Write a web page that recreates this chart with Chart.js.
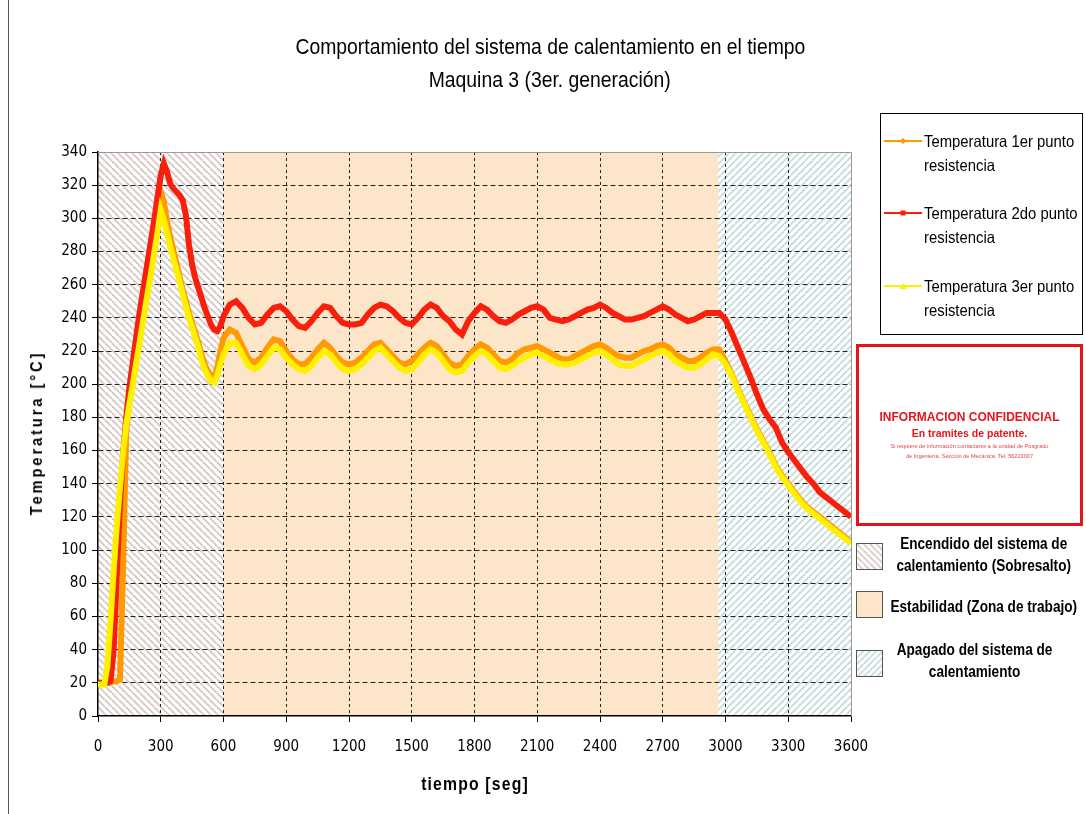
<!DOCTYPE html>
<html>
<head>
<meta charset="utf-8">
<script src="https://cdn.jsdelivr.net/npm/chart.js@4.4.1/dist/chart.umd.min.js"></script>
<style>
  body { margin: 0; background: #fff; }
  #lienzo { position: relative; width: 1086px; height: 814px; overflow: hidden;
            font-family: "Liberation Sans", Arial, sans-serif; color: #000; }
  #grafico { position: absolute; left: 0; top: 0; }
  .marco { position: absolute; left: 8px; top: 0; width: 1px; height: 814px; background: #555; }
  /* texto angosto, al estilo Arial Narrow */
  .ang { display: inline-block; white-space: nowrap; transform: scaleX(0.86); }
  .titulo { position: absolute; left: 250px; width: 600px; text-align: center; font-size: 22.5px; }
  .titulo .ang { transform-origin: center; }
  .eje-y { position: absolute; left: 37px; top: 433px; transform: translate(-50%, -50%) rotate(-90deg) scaleX(0.86);
           font-weight: bold; font-size: 17px; letter-spacing: 3.4px; white-space: nowrap; }
  .eje-x { position: absolute; left: 475px; top: 784px; transform: translate(-50%, -50%) scaleX(0.9);
           font-weight: bold; font-size: 17.5px; letter-spacing: 1.3px; white-space: nowrap; }
  #leyenda { position: absolute; left: 880px; top: 113px; width: 203px; height: 222px; border: 1px solid #000; box-sizing: border-box; }
  .item { position: absolute; left: 3px; font-size: 16.5px; line-height: 24px; white-space: nowrap; }
  .item svg { position: absolute; left: 0; top: 7px; }
  .item .ang { margin-left: 40px; transform-origin: left center; transform: scaleX(0.9); }
  #confidencial { position: absolute; left: 856px; top: 344px; width: 227px; height: 182px; border: 3px solid #e8141c;
                  box-sizing: border-box; text-align: center; color: #e8141c; }
  #confidencial .c1 { margin-top: 63px; font-weight: bold; font-size: 12px; }
  #confidencial .c2 { font-weight: bold; font-size: 10.5px; margin-top: 3px; }
  #confidencial .c3 { font-size: 5.6px; line-height: 10px; margin-top: 2px; color: #e0454a; }
  .zona { position: absolute; left: 856px; width: 230px; }
  .zona .muestra { position: absolute; left: 0; width: 27px; height: 27px; border: 1px solid #555; box-sizing: border-box; }
  .zona .texto { position: absolute; left: -2px; width: 260px; text-align: center; font-weight: bold; font-size: 16px; line-height: 22px; }
  .zona .texto .ang { transform-origin: center; transform: scaleX(0.85); }
</style>
</head>
<body>
<div id="lienzo">
  <canvas id="grafico" width="1086" height="814"></canvas>
  <div class="marco"></div>
  <div class="titulo" style="top:34px"><span class="ang">Comportamiento del sistema de calentamiento en el tiempo</span></div>
  <div class="titulo" style="top:67px"><span class="ang">Maquina 3 (3er. generación)</span></div>
  <div class="eje-y">Temperatura [°C]</div>
  <div class="eje-x">tiempo [seg]</div>
  <div id="leyenda"></div>
  <div id="confidencial">
    <div class="c1">INFORMACION CONFIDENCIAL</div>
    <div class="c2">En tramites de patente.</div>
    <div class="c3">Si requiere de información contactarse a la unidad de Posgrado<br>de Ingeniería. Sección de Mecánica. Tel. 56223007</div>
  </div>
  <div class="zona" style="top:533px">
    <canvas class="muestra" id="m0" width="27" height="27" style="top:10px"></canvas>
    <div class="texto"><span class="ang">Encendido del sistema de<br>calentamiento (Sobresalto)</span></div>
  </div>
  <div class="zona" style="top:591px">
    <canvas class="muestra" id="m1" width="27" height="27" style="top:0"></canvas>
    <div class="texto" style="top:5px"><span class="ang">Estabilidad (Zona de trabajo)</span></div>
  </div>
  <div class="zona" style="top:639px">
    <canvas class="muestra" id="m2" width="27" height="27" style="top:11px"></canvas>
    <div class="texto" style="left:-11px"><span class="ang">Apagado del sistema de<br>calentamiento</span></div>
  </div>
</div>
<script>
// tiempo de muestreo [seg]
const tiempo = [
  0, 15, 30, 45, 60, 75, 90, 105, 120, 135, 150, 165, 180, 195, 210, 225, 240, 255, 270, 285,
  300, 315, 330, 345, 360, 375, 390, 405, 420, 435, 450, 465, 480, 495, 510, 525, 540, 555, 570, 585, 600,
  630, 660, 690, 720, 750, 780, 810, 840, 870, 900, 930, 960, 990, 1020, 1050, 1080, 1110, 1140, 1170, 1200,
  1230, 1260, 1290, 1320, 1350, 1380, 1410, 1440, 1470, 1500, 1530, 1560, 1590, 1620, 1650, 1680, 1710, 1740, 1770, 1800,
  1830, 1860, 1890, 1920, 1950, 1980, 2010, 2040, 2070, 2100, 2130, 2160, 2190, 2220, 2250, 2280, 2310, 2340, 2370, 2400,
  2430, 2460, 2490, 2520, 2550, 2580, 2610, 2640, 2670, 2700, 2730, 2760, 2790, 2820, 2850, 2880, 2910, 2940, 2970, 3000,
  3030, 3060, 3090, 3120, 3150, 3180, 3210, 3240, 3270, 3300, 3330, 3360, 3390, 3420, 3450, 3480, 3510, 3540, 3570, 3600
];

// Temperatura 1er punto resistencia [°C]
const temp1 = [
  20, 20, 20, 20, 20, 21, 21, 22, 90, 172, 190, 201, 213, 224, 236, 247, 259, 270, 283, 297,
  316, 310, 298, 289, 281, 273, 265, 257, 250, 243, 237, 231, 225, 218, 212, 208, 205, 204, 210, 220, 228,
  233, 231, 223, 215, 213, 216, 222, 227, 226, 220, 215, 212, 212, 216, 221, 225, 222, 217, 213, 212,
  213, 216, 220, 224, 225, 221, 217, 213, 212, 214, 218, 222, 225, 223, 218, 213, 211, 212, 217, 221,
  224, 222, 218, 214, 213, 215, 219, 221, 222, 223, 221, 219, 217, 215, 215, 217, 219, 221, 223, 224,
  222, 219, 217, 216, 216, 218, 220, 221, 223, 224, 222, 218, 216, 214, 214, 216, 219, 221, 221, 214,
  206, 197, 189, 181, 173, 166, 159, 151, 145, 140, 135, 130, 126, 123, 120, 117, 114, 111, 108, 105
];

// Temperatura 2do punto resistencia [°C]
const temp2 = [
  20, 20, 20, 20, 21, 40, 85, 128, 158, 180, 198, 212, 226, 240, 252, 264, 276, 288, 300, 313,
  326, 333, 328, 321, 318, 316, 314, 311, 302, 284, 272, 264, 258, 252, 246, 241, 236, 233, 232, 235, 241,
  248, 250, 246, 240, 236, 237, 242, 246, 247, 244, 239, 235, 234, 238, 243, 247, 246, 241, 237, 236,
  236, 237, 242, 246, 248, 247, 244, 240, 237, 236, 240, 245, 248, 246, 241, 238, 233, 230, 238, 243,
  247, 245, 241, 238, 237, 239, 242, 244, 246, 247, 245, 240, 239, 238, 239, 241, 243, 245, 246, 248,
  246, 243, 241, 239, 239, 240, 241, 243, 245, 247, 245, 242, 240, 238, 239, 241, 243, 243, 243, 239,
  231, 222, 213, 204, 194, 185, 179, 174, 165, 159, 154, 149, 144, 140, 135, 132, 129, 126, 123, 120
];

// Temperatura 3er punto resistencia [°C]
const temp3 = [
  19, 19, 19, 30, 58, 88, 115, 138, 158, 176, 188, 199, 211, 222, 234, 245, 257, 268, 280, 292,
  305, 299, 291, 283, 276, 269, 262, 254, 247, 240, 234, 228, 222, 214, 209, 205, 202, 201, 205, 212, 218,
  225, 225, 218, 211, 209, 212, 217, 222, 221, 216, 212, 209, 208, 211, 216, 220, 218, 213, 209, 208,
  209, 212, 216, 220, 222, 218, 214, 210, 208, 209, 213, 218, 221, 219, 214, 209, 207, 208, 213, 217,
  220, 218, 214, 210, 209, 211, 214, 216, 218, 219, 217, 215, 213, 212, 212, 213, 215, 217, 219, 220,
  218, 215, 212, 211, 211, 213, 215, 217, 219, 220, 218, 214, 212, 210, 210, 212, 215, 218, 217, 212,
  205, 196, 188, 180, 172, 165, 158, 150, 144, 139, 134, 129, 125, 122, 119, 116, 113, 110, 107, 104
];

const nombres = ['Temperatura 1er punto resistencia', 'Temperatura 2do punto resistencia', 'Temperatura 3er punto resistencia'];

// etapas del ensayo [seg]
const etapas = [[0, 600], [600, 2965], [2965, 3600]];

const colores = ['#ff9a00', '#f8200c', '#fff000'];

function rayado(color, inversa) {
  const n = 7;
  const c = document.createElement('canvas');
  c.width = c.height = n;
  const g = c.getContext('2d');
  g.fillStyle = '#fff';
  g.fillRect(0, 0, n, n);
  g.strokeStyle = color;
  g.lineWidth = 1.8;
  for (const d of [-n, 0, n]) {
    g.beginPath();
    if (inversa) { g.moveTo(d, n); g.lineTo(d + n, 0); }
    else { g.moveTo(d, 0); g.lineTo(d + n, n); }
    g.stroke();
  }
  return g.createPattern(c, 'repeat');
}

const rellenos = [
  rayado('#d7c6c2', false),
  '#fde5c9',
  rayado('#c4d9d9', true)
];

// muestras de la leyenda de etapas
['m0', 'm1', 'm2'].forEach((id, i) => {
  const g = document.getElementById(id).getContext('2d');
  g.fillStyle = rellenos[i];
  g.fillRect(0, 0, 27, 27);
});

// leyenda de series
const marcas = [
  '<path d="M19 2 L22.5 5 L19 8 L15.5 5 Z" fill="#ff9a00"/>',
  '<rect x="16.5" y="2.5" width="5" height="5" fill="#f8200c"/>',
  '<path d="M19 2 L22.5 8 L15.5 8 Z" fill="#fff000"/>'
];
const leyenda = document.getElementById('leyenda');
[15, 87, 160].forEach((top, i) => {
  const d = document.createElement('div');
  d.className = 'item';
  d.style.top = top + 'px';
  const partes = nombres[i].split(' resistencia');
  d.innerHTML = '<svg width="40" height="10"><line x1="0" y1="5" x2="38" y2="5" stroke="' + colores[i] + '" stroke-width="2"/>' +
    marcas[i] + '</svg><span class="ang">' + partes[0] + '<br>resistencia</span>';
  leyenda.appendChild(d);
});

const fondoEtapas = {
  id: 'fondoEtapas',
  beforeDraw(chart) {
    const { ctx, chartArea: a, scales: { x } } = chart;
    ctx.save();
    etapas.forEach(([desde, hasta], i) => {
      const x0 = x.getPixelForValue(desde);
      const x1 = x.getPixelForValue(hasta);
      ctx.fillStyle = rellenos[i];
      ctx.fillRect(x0, a.top, x1 - x0, a.bottom - a.top);
    });
    ctx.restore();
  },
  beforeDatasetsDraw(chart) {
    const { ctx, chartArea: a } = chart;
    ctx.save();
    ctx.strokeStyle = '#9a9a9a';
    ctx.lineWidth = 1;
    ctx.beginPath();
    ctx.moveTo(a.left, a.top + 0.5);
    ctx.lineTo(a.right + 0.5, a.top + 0.5);
    ctx.lineTo(a.right + 0.5, a.bottom);
    ctx.stroke();
    ctx.restore();
  }
};

const series = [temp1, temp2, temp3];
const fuente = { family: '"DejaVu Sans Condensed", "Liberation Sans", sans-serif', size: 15 };

new Chart(document.getElementById('grafico'), {
  type: 'line',
  data: {
    datasets: series.map((s, i) => ({
      label: nombres[i],
      data: tiempo.map((t, k) => ({ x: t, y: s[k] })),
      borderColor: colores[i],
      backgroundColor: colores[i],
      borderWidth: 6,
      pointRadius: 0,
      tension: 0,
      order: 3 - i
    }))
  },
  options: {
    responsive: false,
    animation: false,
    events: [],
    layout: { padding: { top: 152, right: 235, left: 0, bottom: 0 } },
    plugins: { legend: { display: false }, title: { display: false }, tooltip: { enabled: false } },
    scales: {
      x: {
        type: 'linear',
        min: 0, max: 3600,
        afterFit: s => { s.height = 98; },
        ticks: { stepSize: 300, color: '#000', font: fuente, padding: 16, maxRotation: 0, autoSkip: false,
                 callback: v => String(v) },
        grid: {
          color: c => (c.tick && (c.tick.value === 0 || c.tick.value === 3600)) ? 'rgba(0,0,0,0)' : '#222',
          lineWidth: 1, tickLength: 6, tickColor: '#000'
        },
        border: { color: '#000', width: 1.5, dash: [3, 3] }
      },
      y: {
        min: 0, max: 340,
        afterFit: s => { s.width = 98; },
        ticks: { stepSize: 20, color: '#000', font: fuente, padding: 5, callback: v => String(v) },
        grid: {
          color: c => (c.tick && (c.tick.value === 0 || c.tick.value === 340)) ? 'rgba(0,0,0,0)' : '#222',
          lineWidth: 1, tickLength: 6, tickColor: '#000'
        },
        border: { color: '#000', width: 1.5, dash: [5, 3] }
      }
    }
  },
  plugins: [fondoEtapas]
});
</script>
</body>
</html>
